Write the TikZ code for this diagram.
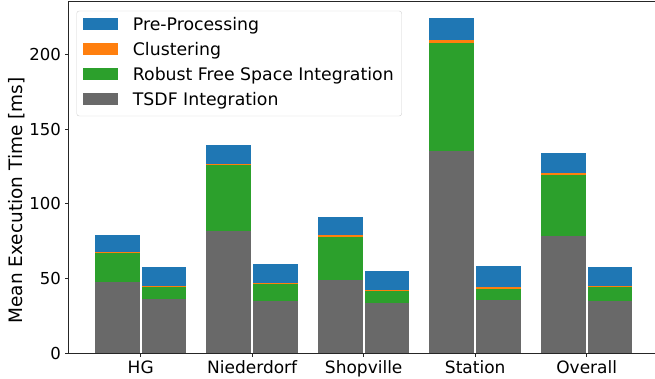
\documentclass[tikz,border=0pt]{standalone}
\usepackage{fontspec}
\setmainfont{DejaVu Sans}
\usetikzlibrary{positioning}
\definecolor{preblue}{HTML}{1F77B4}
\definecolor{cluorange}{HTML}{FF7F0E}
\definecolor{rfsgreen}{HTML}{2CA02C}
\definecolor{tsdfgray}{HTML}{696969}

\begin{document}
\begin{tikzpicture}[x=1pt, y=1pt,
  spine/.style={draw=black!85, line width=0.9pt},
  tick/.style={draw=black!85, line width=0.9pt},
  lbl/.style={font=\fontsize{17}{20}\selectfont, inner sep=0pt}]
  \useasboundingbox (0,0) rectangle (655,379);

  \begin{scope}[shift={(140.7,25.7)}, x=111.5pt, y=1.495pt]
    % stacked bars: left edge / tops of TSDF, free space, clustering, pre-processing
    \foreach \xa/\t/\r/\c/\p in {
        -0.41/47.8/66.8/67.6/79.3,   0.01/36.1/44.6/45.2/57.6,
         0.59/82.0/126.0/126.7/139.5, 1.01/35.1/46.7/47.3/60.0,
         1.59/49.2/77.6/79.1/91.2,   2.01/33.6/41.7/42.3/55.1,
         2.59/135.4/207.8/209.4/224.0, 3.01/35.6/43.1/44.1/58.4,
         3.59/78.6/119.5/120.6/133.8, 4.01/35.0/44.2/45.0/57.5}{
      \fill[tsdfgray] (\xa,0) rectangle ++(0.4,\t);
      \fill[rfsgreen] (\xa,\t) rectangle ++(0.4,{\r-\t});
      \fill[cluorange] (\xa,\r) rectangle ++(0.4,{\c-\r});
      \fill[preblue] (\xa,\c) rectangle ++(0.4,{\p-\c});
    }
    % axes
    \coordinate (origin) at (-0.65,0);
    \coordinate (ytop) at (-0.65,235.2);
    \coordinate (xend) at (4.62,0);
    \coordinate (topend) at (4.62,235.2);
    \draw[spine] (ytop) -- (origin) -- (xend);
    \draw[spine] (ytop) -- (topend);
    \foreach \v in {0,50,...,200}
      \draw[tick] (-0.65,\v) -- ++(-3.5pt,0pt) node[lbl, font=\fontsize{16.5}{20}\selectfont, anchor=east, xshift=-3.5pt] (ytick\v) {\v};
    \foreach \i/\name in {0/HG, 1/Niederdorf, 2/Shopville, 3/Station, 4/Overall}
      \draw[tick] (\i,0) -- ++(0pt,-3.5pt) node[lbl, anchor=base, yshift=-16.5pt] (cat\i) {\name};
  \end{scope}

  \node[lbl, font=\fontsize{18.5}{22}\selectfont, rotate=90] (ylabel) at (16.5,178.5) {Mean Execution Time [ms]};

  % Legend
  \node[draw=black!18, fill=white, rounded corners=2.5pt, minimum width=325pt,
        minimum height=105pt, inner sep=0pt] (legend) at (239.2,315.5) {};
  \foreach \col/\txt [count=\k] in {preblue/Pre-Processing, cluorange/Clustering,
      rfsgreen/Robust Free Space Integration, tsdfgray/TSDF Integration}{
    \fill[\col] (83.3,{354.5-25*(\k-1)-6}) rectangle ++(35,12);
    \node[lbl, font=\fontsize{17.3}{20}\selectfont, anchor=base west] (key\k) at (132.7,{354.5-25*(\k-1)-6.2}) {\txt};
  }
\end{tikzpicture}
\end{document}
